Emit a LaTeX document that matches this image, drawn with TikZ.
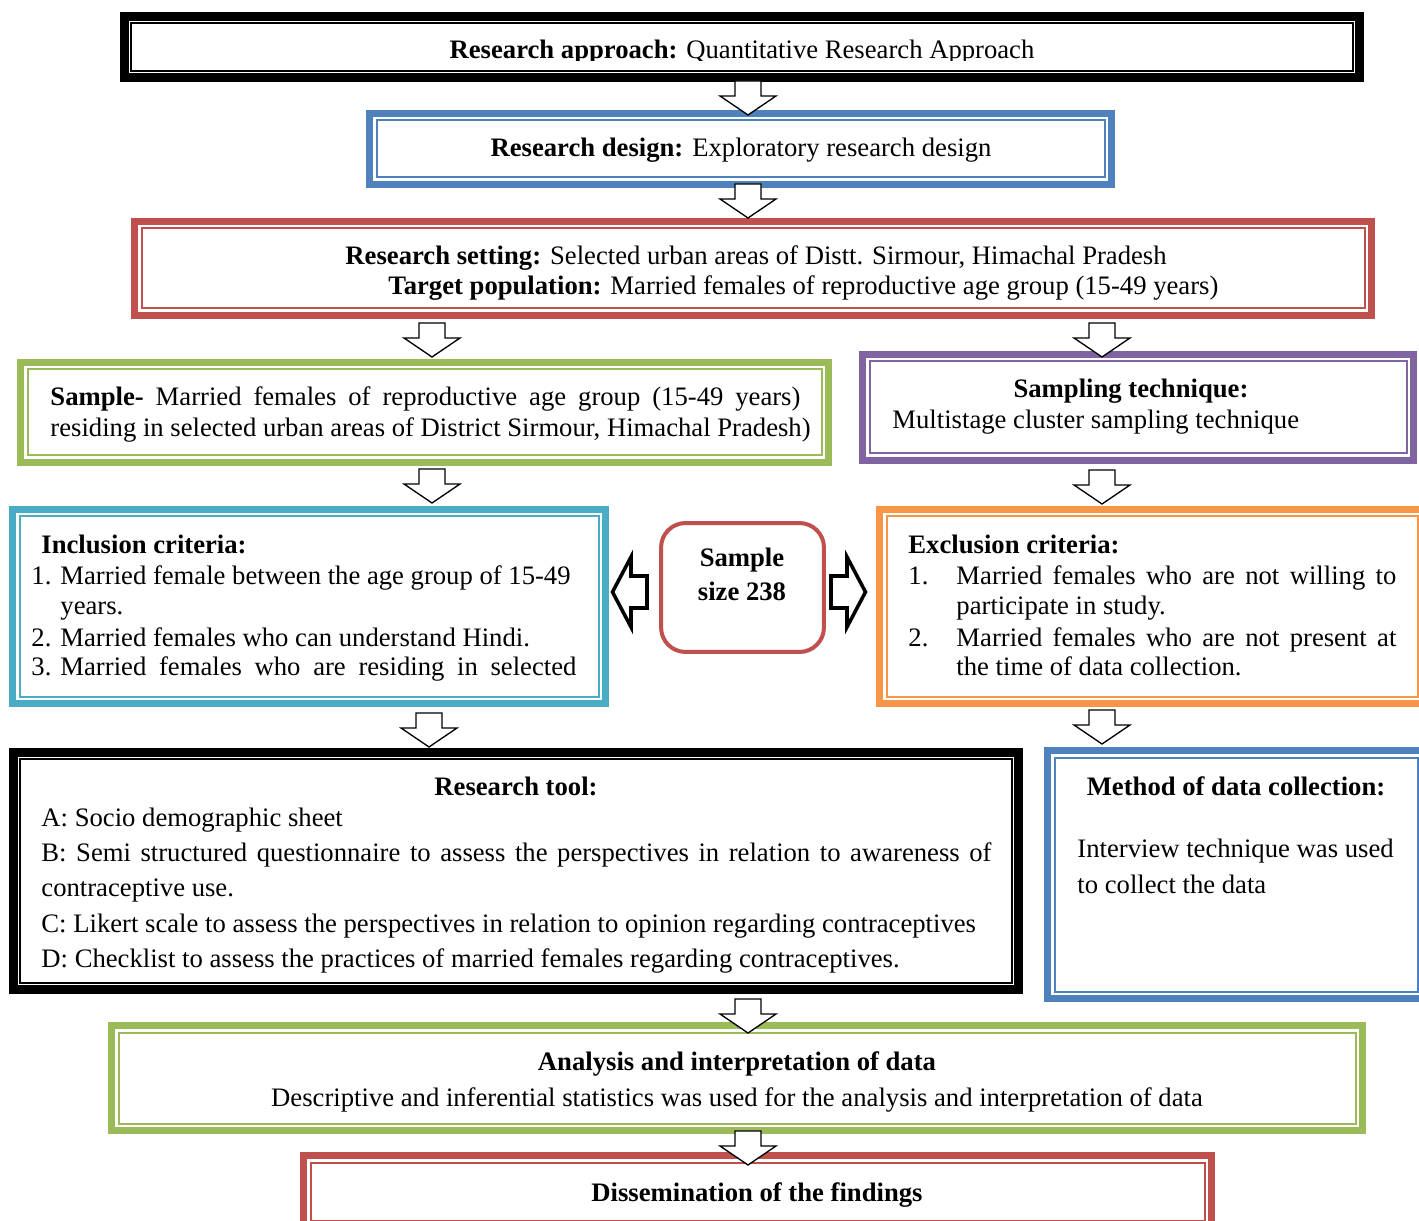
\documentclass[tikz,border=0pt]{standalone}
\usepackage{fontspec}
\setmainfont{Liberation Serif}
\usetikzlibrary{fit}
\definecolor{cblue}{HTML}{4F81BD}
\definecolor{cred}{HTML}{C0504D}
\definecolor{cgreen}{HTML}{9BBB59}
\definecolor{cpurple}{HTML}{8064A2}
\definecolor{ccyan}{HTML}{4BACC6}
\definecolor{corange}{HTML}{F79646}
\newcommand\innerline[3][10.5]{\draw[ibox=#3] ([shift={(#1,#1)}]#2.north west) rectangle ([shift={(-#1,-#1)}]#2.south east);}
\begin{document}
\begin{tikzpicture}[x=0.45pt,y=-0.45pt, font=\fontsize{12pt}{13.8pt}\selectfont,
  obox/.style={draw=#1, line width=3.15pt, inner sep=0pt, fill=white},
  ibox/.style={draw=#1, line width=0.9pt},
  txt/.style={inner sep=0pt, anchor=base west},
  ctxt/.style={inner sep=0pt, anchor=base},
  darr/.pic={\draw[line width=0.6pt, fill=white, line join=miter]
     (-13,-34) -- (13,-34) -- (13,-19) -- (28,-19) -- (0,0) -- (-28,-19) -- (-13,-19) -- cycle;},
  harr/.pic={\draw[line width=1.6pt, fill=white, line join=miter]
     (-36,-16) -- (-20,-16) -- (-20,-35) -- (-1.5,0) -- (-20,35) -- (-20,16) -- (-36,16) -- cycle;},
  sbox/.style={draw=cred, line width=1.8pt, rounded corners=11pt, fill=white,
    minimum width=73.3pt, minimum height=58pt, inner sep=0pt}]
\useasboundingbox (0,0) rectangle (1419,1221);
\clip (0,0) rectangle (1419,1221);
\fill[white] (0,0) rectangle (1419,1221);

% boxes
\node[fit={(124.5,16.5)(1359.5,77.5)}, obox=black, line width=4pt] (approach) {};
\innerline[11]{approach}{black}
\node[fit={(369.5,113.5)(1111.5,184.5)}, obox=cblue] (design) {};
\innerline{design}{cblue}
\node[fit={(134.5,221.5)(1371.5,315.5)}, obox=cred] (setting) {};
\innerline{setting}{cred}
\node[fit={(20.5,362.5)(828.5,462.5)}, obox=cgreen] (sample) {};
\innerline{sample}{cgreen}
\node[fit={(862.5,354.5)(1413.5,460.5)}, obox=cpurple] (technique) {};
\innerline{technique}{cpurple}
\node[fit={(12.5,509.5)(605.5,703.5)}, obox=ccyan] (inclusion) {};
\innerline{inclusion}{ccyan}
\node[sbox] (size) at (742.5,587.5) {};
\node[fit={(879.5,509.5)(1424.5,703.5)}, obox=corange] (exclusion) {};
\innerline{exclusion}{corange}
\node[fit={(13.5,752.5)(1018.5,989.5)}, obox=black, line width=4pt] (tool) {};
\innerline[11]{tool}{black}
\node[fit={(1047.5,750.5)(1424.5,998.5)}, obox=cblue] (method) {};
\innerline{method}{cblue}
\node[fit={(111.5,1025.5)(1362.5,1130.5)}, obox=cgreen] (analysis) {};
\innerline{analysis}{cgreen}
\node[fit={(303.5,1155.5)(1211.5,1227.5)}, obox=cred] (dissem) {};
\innerline{dissem}{cred}

% block arrows (tip positions)
\coordinate (a1) at (748,115);
\coordinate (a2) at (748,218);
\coordinate (a3) at (432,357);
\coordinate (a4) at (1102,357);
\coordinate (a5) at (432,503);
\coordinate (a6) at (1102,504);
\coordinate (a7) at (429,747);
\coordinate (a8) at (1102,744);
\coordinate (a9) at (748,1033);
\coordinate (a10) at (748,1165);
\foreach \a in {a1,a2,a3,a4,a5,a6,a7,a8,a9,a10} \pic at (\a) {darr};
\coordinate (la) at (611,592);
\coordinate (ra) at (867,592);
\pic[rotate=180] at (la) {harr};
\pic at (ra) {harr};

% texts
\begin{scope}
\clip (130,22) rectangle (1355,61);
\node[ctxt] (t1) at (742,59) {\textbf{Research approach:} Quantitative Research Approach};
\end{scope}
\node[ctxt] (t2) at (741,157) {\textbf{Research design:} Exploratory research design};
\node[txt] (t3a) at (345,265) {\textbf{Research setting:} Selected urban areas of Distt. Sirmour, Himachal Pradesh};
\node[txt] (t3b) at (388,295) {\textbf{Target population:} Married females of reproductive age group (15-49 years)};
\node[txt] (t4a) at (50,406) {\makebox[337.5pt][s]{\textbf{Sample-} Married females of reproductive age group (15-49 years)}};
\node[txt] (t4b) at (50,437) {residing in selected urban areas of District Sirmour, Himachal Pradesh)};
\node[ctxt] (t5a) at (1131,398) {\textbf{Sampling technique:}};
\node[txt] (t5b) at (892,429) {Multistage cluster sampling technique};

\node[txt] (t6) at (41,554) {\textbf{Inclusion criteria:}};
\node[txt] (t6n1) at (31,585) {1.};
\node[txt] (t6a) at (60,585) {Married female between the age group of 15-49};
\node[txt] (t6b) at (60,615) {years.};
\node[txt] (t6n2) at (31,646) {2.};
\node[txt] (t6c) at (60,646) {Married females who can understand Hindi.};
\node[txt] (t6n3) at (31,676) {3.};
\node[txt] (t6d) at (60,676) {\makebox[232.2pt][s]{Married females who are residing in selected}};

\node[ctxt] (t7a) at (742,567) {\textbf{Sample}};
\node[ctxt] (t7b) at (742,601) {\textbf{size 238}};

\node[txt] (t8) at (908,554) {\textbf{Exclusion criteria:}};
\node[txt] (t8n1) at (908,585) {1.};
\node[txt] (t8a) at (956,585) {\makebox[198pt][s]{Married females who are not willing to}};
\node[txt] (t8b) at (956,615) {participate in study.};
\node[txt] (t8n2) at (908,646) {2.};
\node[txt] (t8c) at (956,646) {\makebox[198pt][s]{Married females who are not present at}};
\node[txt] (t8d) at (956,676) {the time of data collection.};

\node[ctxt] (t9) at (516,795) {\textbf{Research tool:}};
\node[txt] (t9a) at (41,826) {A: Socio demographic sheet};
\node[txt] (t9b) at (41,861) {\makebox[427.5pt][s]{B: Semi structured questionnaire to assess the perspectives in relation to awareness of}};
\node[txt] (t9c) at (41,896) {contraceptive use.};
\node[txt] (t9d) at (41,932) {C: Likert scale to assess the perspectives in relation to opinion regarding contraceptives};
\node[txt] (t9e) at (41,967) {D: Checklist to assess the practices of married females regarding contraceptives.};

\node[ctxt] (t10) at (1236,795) {\textbf{Method of data collection:}};
\node[txt] (t10a) at (1077,857) {Interview technique was used};
\node[txt] (t10b) at (1077,893) {to collect the data};

\node[ctxt] (t11) at (737,1070) {\textbf{Analysis and interpretation of data}};
\node[ctxt] (t11a) at (737,1106) {Descriptive and inferential statistics was used for the analysis and interpretation of data};
\node[ctxt] (t12) at (757,1201) {\textbf{Dissemination of the findings}};
\end{tikzpicture}
\end{document}
